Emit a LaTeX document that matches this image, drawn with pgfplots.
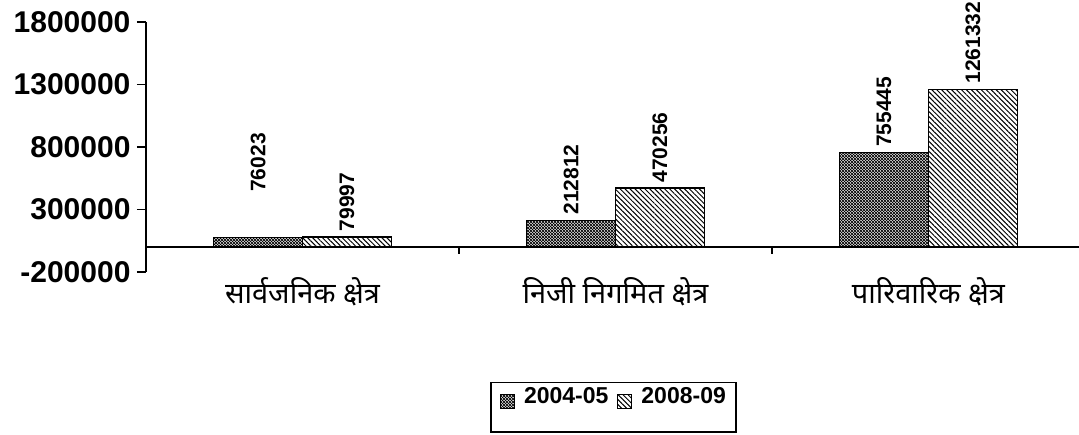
\documentclass[border=0pt]{standalone}
\usepackage{fontspec}
\setmainfont{Liberation Sans}
\newfontfamily\deva[Script=Devanagari]{Noto Sans}
\usepackage{pgfplots}
\pgfplotsset{compat=1.18}
\usetikzlibrary{patterns, patterns.meta}

\tikzdeclarepattern{
  name=densecross, type=uncolored,
  bottom left={(-.1pt,-.1pt)}, top right={(3.1pt,3.1pt)}, tile size={(3pt,3pt)},
  code={\draw[line width=0.7pt] (0,0) -- (3pt,3pt) (0,3pt) -- (3pt,0);}
}

% values (bar tops), extra label lift in pt
\pgfplotstableread{
x   y       lift
0   76023   40
1   212812  0
2   755445  0
}\firstyear
\pgfplotstableread{
x   y       lift
0   79997   0
1   470256  0
2   1261332 0
}\secondyear

\begin{document}
\begin{tikzpicture}
\begin{axis}[
    at={(0,0)}, anchor=south west,
    scale only axis, width=933pt, height=250pt,
    ybar=0pt, bar width=0.284,
    xmin=-0.5, xmax=2.481,
    ymin=-200000, ymax=1800000,
    scaled y ticks=false,
    ytick={-200000,300000,800000,1300000,1800000},
    yticklabels={-200000,300000,800000,1300000,1800000},
    yticklabel style={font=\fontsize{30}{31}\selectfont\bfseries, xshift=-3pt},
    axis y line*=left, axis x line*=bottom,
    x axis line style={draw=none},
    y axis line style={line width=1.3pt},
    tick align=outside, major tick length=9pt,
    y tick style={line width=1.3pt, black},
    x tick style={draw=none},
    xtick={0,1,2},
    xticklabels={सार्वजनिक क्षेत्र, निजी निगमित क्षेत्र, पारिवारिक क्षेत्र},
    xticklabel style={font=\deva\fontsize{29}{30}\selectfont, yshift=7pt},
    visualization depends on={\thisrow{lift} \as \lift},
    nodes near coords,
    every node near coord/.append style={font=\fontsize{21}{22}\selectfont\bfseries,
        rotate=90, anchor=west, xshift=\lift pt, inner sep=5pt},
    point meta=explicit symbolic,
    legend columns=2,
    legend style={at={(0.501,-0.44)}, anchor=north, draw=black, line width=1.5pt,
        font=\fontsize{23}{24}\selectfont\bfseries, inner xsep=9pt, inner ysep=4pt,
        nodes={text depth=23pt, inner sep=1pt}, column sep=8pt},
    legend image code/.code={\draw[#1, line width=1pt] (0pt,-1pt) rectangle (14pt,13pt);},
]
\addplot[draw=black, line width=1.6pt, pattern=densecross, pattern color=black]
    table[x=x, y=y, meta=y] {\firstyear};
\addplot[draw=black, line width=1.6pt,
    pattern={Lines[angle=-45, distance=3.5pt, line width=1pt]}, pattern color=black]
    table[x=x, y=y, meta=y] {\secondyear};
\legend{2004-05, 2008-09}
\draw[line width=1.3pt] (axis cs:-0.5,0) -- (axis cs:2.481,0);
\draw[line width=1.3pt] (axis cs:0.5,0) -- ([yshift=-7pt]axis cs:0.5,0);
\draw[line width=1.3pt] (axis cs:1.5,0) -- ([yshift=-7pt]axis cs:1.5,0);
\end{axis}
\pgfresetboundingbox
\path (-146pt,-163pt) rectangle (933pt,272pt);
\end{tikzpicture}
\end{document}
